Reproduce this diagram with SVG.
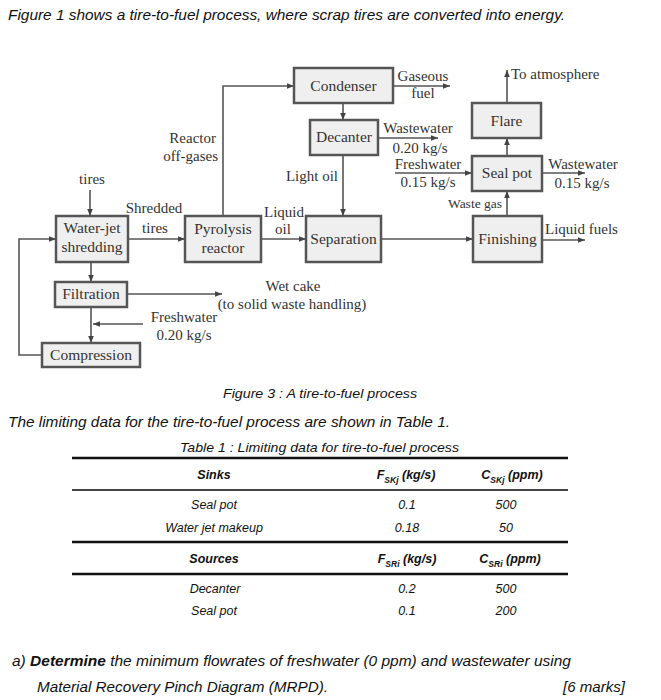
<svg xmlns="http://www.w3.org/2000/svg" width="661" height="700" viewBox="0 0 661 700">
<defs>
<marker id="ah" viewBox="0 0 10 10" refX="10" refY="5" markerWidth="7" markerHeight="7" markerUnits="userSpaceOnUse" orient="auto">
<path d="M0,1 L10,5 L0,9 z" fill="#444"/>
</marker>
</defs>
<style>
.bx{fill:#efefef;stroke:#555;stroke-width:2.5}
.nt{font-family:"Liberation Serif","DejaVu Serif",serif;font-size:15.5px;fill:#333;text-anchor:middle}
.lb{font-family:"Liberation Serif","DejaVu Serif",serif;font-size:15px;fill:#333}
.sm{font-size:13.5px}
.cn{fill:none;stroke:#555;stroke-width:1.6;marker-end:url(#ah)}
.it{font-family:"Liberation Sans",Arial,sans-serif;font-style:italic;font-size:14.5px;fill:#111}
.tb{font-family:"Liberation Sans",Arial,sans-serif;font-style:italic;font-size:12.5px;fill:#111;text-anchor:middle}
.th{font-weight:bold}
.sub{font-size:8.5px}
</style>
<rect width="661" height="700" fill="#fff"/>
<text class="it" x="8" y="20" textLength="557" lengthAdjust="spacingAndGlyphs">Figure 1 shows a tire-to-fuel process, where scrap tires are converted into energy.</text>

<g id="connectors">
<path class="cn" d="M90,190 V216"/>
<path class="cn" d="M42,355 H19 V239 H56"/>
<path class="cn" d="M128,239 H185"/>
<path class="cn" d="M91,262 V282"/>
<path class="cn" d="M127,294 H222"/>
<path class="cn" d="M91,307 V343"/>
<path class="cn" d="M143,324 H93"/>
<path class="cn" d="M223,216 V86 H294"/>
<path class="cn" d="M261,239 H306"/>
<path class="cn" d="M343,103 V120"/>
<path class="cn" d="M343,155 V216"/>
<path class="cn" d="M393,86 H450"/>
<path class="cn" d="M378,138 H438"/>
<path class="cn" d="M395,173 H472"/>
<path class="cn" d="M507,156 V138"/>
<path class="cn" d="M507,103 V70"/>
<path class="cn" d="M542,173 H585"/>
<path class="cn" d="M507,216 V191"/>
<path class="cn" d="M381,239 H473"/>
<path class="cn" d="M542,240 H585"/>
</g>

<g id="condenser"><rect class="bx" x="294" y="68" width="99" height="35"/><text class="nt" x="343.5" y="91">Condenser</text></g>
<g id="decanter"><rect class="bx" x="310" y="120" width="68" height="35"/><text class="nt" x="344" y="142">Decanter</text></g>
<g id="flare"><rect class="bx" x="472" y="103" width="69" height="35"/><text class="nt" x="506.5" y="126">Flare</text></g>
<g id="sealpot"><rect class="bx" x="472" y="156" width="70" height="35"/><text class="nt" x="507" y="178">Seal pot</text></g>
<g id="waterjet"><rect class="bx" x="56" y="216" width="72" height="46"/><text class="nt" x="92" y="233">Water-jet</text><text class="nt" x="92" y="252">shredding</text></g>
<g id="pyrolysis"><rect class="bx" x="185" y="216" width="76" height="46"/><text class="nt" x="223" y="234">Pyrolysis</text><text class="nt" x="223" y="253">reactor</text></g>
<g id="separation"><rect class="bx" x="306" y="216" width="75" height="46"/><text class="nt" x="343.5" y="244">Separation</text></g>
<g id="finishing"><rect class="bx" x="473" y="216" width="69" height="46"/><text class="nt" x="507.5" y="244">Finishing</text></g>
<g id="filtration"><rect class="bx" x="55" y="282" width="72" height="25"/><text class="nt" x="91" y="299">Filtration</text></g>
<g id="compression"><rect class="bx" x="42" y="343" width="98" height="24"/><text class="nt" x="91" y="360">Compression</text></g>

<g id="labels">
<text class="lb" x="92" y="184" text-anchor="middle">tires</text>
<text class="lb" x="154" y="213" text-anchor="middle">Shredded</text>
<text class="lb" x="155" y="233" text-anchor="middle">tires</text>
<text class="lb" x="216" y="143" text-anchor="end">Reactor</text>
<text class="lb" x="218" y="161" text-anchor="end">off-gases</text>
<text class="lb" x="284" y="217" text-anchor="middle">Liquid</text>
<text class="lb" x="283" y="234" text-anchor="middle">oil</text>
<text class="lb" x="338" y="181" text-anchor="end">Light oil</text>
<text class="lb" x="423" y="81" text-anchor="middle">Gaseous</text>
<text class="lb" x="423" y="98" text-anchor="middle">fuel</text>
<text class="lb" x="418" y="133" text-anchor="middle">Wastewater</text>
<text class="lb" x="420" y="153" text-anchor="middle">0.20 kg/s</text>
<text class="lb" x="428" y="169" text-anchor="middle">Freshwater</text>
<text class="lb" x="428" y="187" text-anchor="middle">0.15 kg/s</text>
<text class="lb" x="511" y="79">To atmosphere</text>
<text class="lb" x="583" y="169" text-anchor="middle">Wastewater</text>
<text class="lb" x="582" y="188" text-anchor="middle">0.15 kg/s</text>
<text class="lb sm" x="502" y="208" text-anchor="end">Waste gas</text>
<text class="lb" x="545" y="234">Liquid fuels</text>
<text class="lb" x="293" y="291" text-anchor="middle">Wet cake</text>
<text class="lb" x="292" y="309" text-anchor="middle">(to solid waste handling)</text>
<text class="lb" x="184" y="322" text-anchor="middle">Freshwater</text>
<text class="lb" x="184" y="340" text-anchor="middle">0.20 kg/s</text>
</g>

<text class="it" x="223" y="398" style="font-size:13.5px" textLength="194" lengthAdjust="spacingAndGlyphs">Figure 3 : A tire-to-fuel process</text>
<text class="it" x="8" y="427" textLength="442" lengthAdjust="spacingAndGlyphs">The limiting data for the tire-to-fuel process are shown in Table 1.</text>

<g id="table">
<text class="it" x="180" y="452" style="font-size:13.5px" textLength="279" lengthAdjust="spacingAndGlyphs">Table 1 : Limiting data for tire-to-fuel process</text>
<line x1="72" y1="458" x2="568" y2="458" stroke="#111" stroke-width="2.5"/>
<text class="tb th" x="214" y="479">Sinks</text>
<text class="tb th" x="406" y="479">F<tspan class="sub" dy="4">SKj</tspan><tspan dy="-4"> (kg/s)</tspan></text>
<text class="tb th" x="512" y="479">C<tspan class="sub" dy="4">SKj</tspan><tspan dy="-4"> (ppm)</tspan></text>
<line x1="72" y1="490" x2="568" y2="490" stroke="#444" stroke-width="2"/>
<text class="tb" x="214" y="509">Seal pot</text>
<text class="tb" x="407" y="509">0.1</text>
<text class="tb" x="506" y="509">500</text>
<text class="tb" x="214" y="532">Water jet makeup</text>
<text class="tb" x="407" y="532">0.18</text>
<text class="tb" x="506" y="532">50</text>
<line x1="72" y1="542" x2="568" y2="542" stroke="#111" stroke-width="2.5"/>
<text class="tb th" x="214" y="563">Sources</text>
<text class="tb th" x="407" y="563">F<tspan class="sub" dy="4">SRi</tspan><tspan dy="-4"> (kg/s)</tspan></text>
<text class="tb th" x="510" y="563">C<tspan class="sub" dy="4">SRi</tspan><tspan dy="-4"> (ppm)</tspan></text>
<line x1="72" y1="574" x2="568" y2="574" stroke="#111" stroke-width="2.5"/>
<text class="tb" x="215" y="593">Decanter</text>
<text class="tb" x="407" y="593">0.2</text>
<text class="tb" x="506" y="593">500</text>
<text class="tb" x="214" y="615">Seal pot</text>
<text class="tb" x="407" y="615">0.1</text>
<text class="tb" x="506" y="615">200</text>
</g>

<text class="it" x="12" y="666" textLength="559" lengthAdjust="spacingAndGlyphs">a)  <tspan font-weight="bold">Determine</tspan> the minimum flowrates of freshwater (0 ppm) and wastewater using</text>
<text class="it" x="37" y="692" textLength="291" lengthAdjust="spacingAndGlyphs">Material Recovery Pinch Diagram (MRPD).</text>
<text class="it" x="563" y="692" textLength="62" lengthAdjust="spacingAndGlyphs">[6 marks]</text>
</svg>
